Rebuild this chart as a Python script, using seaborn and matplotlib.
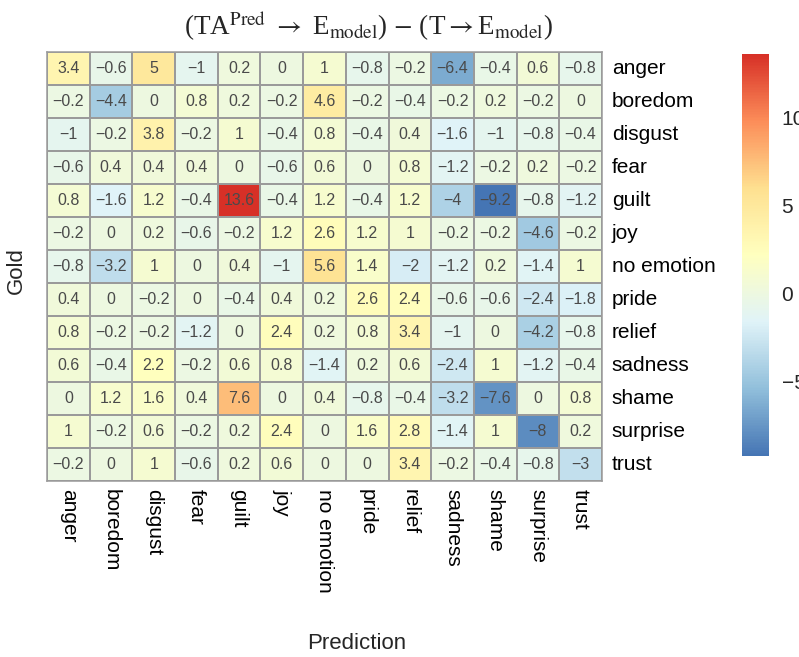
import numpy as np
import pandas as pd
import matplotlib
matplotlib.use("Agg")
import matplotlib.pyplot as plt
from matplotlib.colors import LinearSegmentedColormap
import seaborn as sns

emotions = ["anger", "boredom", "disgust", "fear", "guilt", "joy", "no emotion",
            "pride", "relief", "sadness", "shame", "surprise", "trust"]

anger    = [3.4, -0.6, 5, -1, 0.2, 0, 1, -0.8, -0.2, -6.4, -0.4, 0.6, -0.8]
boredom  = [-0.2, -4.4, 0, 0.8, 0.2, -0.2, 4.6, -0.2, -0.4, -0.2, 0.2, -0.2, 0]
disgust  = [-1, -0.2, 3.8, -0.2, 1, -0.4, 0.8, -0.4, 0.4, -1.6, -1, -0.8, -0.4]
fear     = [-0.6, 0.4, 0.4, 0.4, 0, -0.6, 0.6, 0, 0.8, -1.2, -0.2, 0.2, -0.2]
guilt    = [0.8, -1.6, 1.2, -0.4, 13.6, -0.4, 1.2, -0.4, 1.2, -4, -9.2, -0.8, -1.2]
joy      = [-0.2, 0, 0.2, -0.6, -0.2, 1.2, 2.6, 1.2, 1, -0.2, -0.2, -4.6, -0.2]
no_emotion = [-0.8, -3.2, 1, 0, 0.4, -1, 5.6, 1.4, -2, -1.2, 0.2, -1.4, 1]
pride    = [0.4, 0, -0.2, 0, -0.4, 0.4, 0.2, 2.6, 2.4, -0.6, -0.6, -2.4, -1.8]
relief   = [0.8, -0.2, -0.2, -1.2, 0, 2.4, 0.2, 0.8, 3.4, -1, 0, -4.2, -0.8]
sadness  = [0.6, -0.4, 2.2, -0.2, 0.6, 0.8, -1.4, 0.2, 0.6, -2.4, 1, -1.2, -0.4]
shame    = [0, 1.2, 1.6, 0.4, 7.6, 0, 0.4, -0.8, -0.4, -3.2, -7.6, 0, 0.8]
surprise = [1, -0.2, 0.6, -0.2, 0.2, 2.4, 0, 1.6, 2.8, -1.4, 1, -8, 0.2]
trust    = [-0.2, 0, 1, -0.6, 0.2, 0.6, 0, 0, 3.4, -0.2, -0.4, -0.8, -3]

rows = [anger, boredom, disgust, fear, guilt, joy, no_emotion, pride, relief,
        sadness, shame, surprise, trust]
df = pd.DataFrame(rows, index=emotions, columns=emotions)

palette = ["#4575b4", "#91bfdb", "#e0f3f8", "#ffffbf", "#fee090", "#fc8d59", "#d73027"]
cmap = LinearSegmentedColormap.from_list("rdylbu7", palette)

sns.set_theme(style="white")
plt.rcParams['font.family'] = ['Liberation Sans', 'DejaVu Sans']
plt.rcParams['mathtext.fontset'] = 'stix'

fig = plt.figure(figsize=(7.99, 6.57), dpi=100)
ax = fig.add_axes([0.0588, 0.2679, 0.6946, 0.6530])
cax = fig.add_axes([0.9287, 0.306, 0.0338, 0.612])

def fmt(v):
    s = f"{v:g}"
    return s.replace("-", "\u2212")

annot = np.vectorize(fmt)(df.values)

sns.heatmap(df, ax=ax, cbar_ax=cax, cmap=cmap, vmin=-9.2, vmax=13.6,
            annot=annot, fmt="", annot_kws={"size": 11.5, "color": "#4a4a4a"},
            linewidths=1.1, linecolor="#9a9a9a")

for sp in ax.spines.values():
    sp.set_visible(True)
    sp.set_color("#9a9a9a")
    sp.set_linewidth(1.1)

ax.yaxis.tick_right()
ax.yaxis.set_label_position('left')
ax.tick_params(axis='y', length=0, labelsize=15, pad=7, labelcolor="black")
ax.tick_params(axis='x', length=0, labelsize=15, pad=6, labelcolor="black")
ax.set_yticklabels(emotions, rotation=0, va='center')
ax.set_xticklabels(emotions, rotation=-90, ha='center', va='top')
ax.set_xlabel("Prediction", fontsize=16)
ax.set_ylabel("Gold", fontsize=16)
ax.xaxis.set_label_coords(0.5586, -0.354)
ax.yaxis.set_label_coords(-0.036, 0.49)

ax.set_title(r"(TA$^{\mathrm{Pred}}$ $\rightarrow$ E$_{\mathrm{model}}$) $-$ (T$\rightarrow$E$_{\mathrm{model}}$)",
             fontsize=19.5, family=['Liberation Serif', 'DejaVu Serif'], pad=12, x=0.58)

cax.tick_params(length=0, labelsize=15, pad=9)
cax.set_yticks([-5, 0, 5, 10])
cax.set_yticklabels(["\u22125", "0", "5", "10"])
for sp in cax.spines.values():
    sp.set_visible(False)

fig.savefig("out.png", dpi=100)
